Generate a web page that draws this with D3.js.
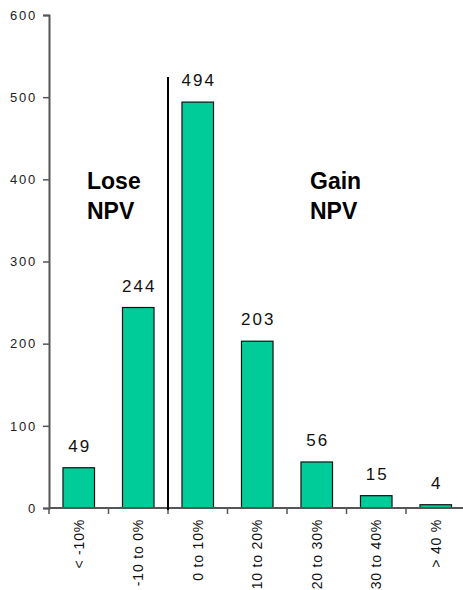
<!DOCTYPE html>
<html>
<head>
<meta charset="utf-8">
<script src="https://cdn.jsdelivr.net/npm/d3@7"></script>
<style>
  html, body { margin: 0; padding: 0; background: #fff; }
  svg { display: block; font-family: Arial, "Liberation Sans", sans-serif; }
</style>
</head>
<body>
<svg id="chart" width="463" height="590"></svg>
<script>
// NPV change buckets and the number of cases in each
const categories = ["< -10%", "-10 to 0%", "0 to 10%", "10 to 20%", "20 to 30%", "30 to 40%", "> 40 %"];
const counts = [49, 244, 494, 203, 56, 15, 4];
const yTicks = [0, 100, 200, 300, 400, 500, 600];
const regionLabels = [["Lose", "NPV"], ["Gain", "NPV"]];

(function draw() {
  const svg = d3.select("#chart");
  const plotLeft = 49, plotTop = 15, plotBottom = 508;
  const step = 59.5;
  const plotRight = plotLeft + step * categories.length;

  const x = d3.scaleBand()
    .domain(categories)
    .range([plotLeft, plotRight])
    .paddingInner(0.47)
    .paddingOuter(0.235);

  const y = d3.scaleLinear().domain([0, 600]).range([plotBottom, plotTop]);

  const gap = (x.step() - x.bandwidth()) / 2;

  // Bars
  svg.append("g").selectAll("rect")
    .data(categories)
    .join("rect")
    .attr("x", d => x(d))
    .attr("y", (d, i) => y(counts[i]))
    .attr("width", x.bandwidth())
    .attr("height", (d, i) => y(0) - y(counts[i]))
    .attr("fill", "#00CC99")
    .attr("stroke", "#111")
    .attr("stroke-width", 1.2);

  // Value labels above bars (trailing letter-spacing offset compensated)
  svg.append("g").selectAll("text")
    .data(categories)
    .join("text")
    .attr("x", d => x(d) + x.bandwidth() / 2 + 1)
    .attr("y", (d, i) => y(counts[i]) - 16)
    .attr("text-anchor", "middle")
    .attr("font-size", 17)
    .attr("letter-spacing", 2)
    .attr("fill", "#111")
    .text((d, i) => counts[i]);

  // Y axis
  const yAxis = svg.append("g")
    .attr("transform", `translate(${plotLeft},0)`)
    .call(d3.axisLeft(y).tickValues(yTicks).tickSize(6).tickPadding(6));
  yAxis.select(".domain").attr("stroke", "#555").attr("stroke-width", 2);
  yAxis.selectAll(".tick line").attr("stroke", "#555").attr("stroke-width", 1.5);
  yAxis.selectAll(".tick text")
    .attr("font-size", 13)
    .attr("letter-spacing", 1.8)
    .attr("fill", "#222")
    .attr("font-family", "Arial, 'Liberation Sans', sans-serif");

  // X axis line with ticks on category boundaries
  svg.append("line")
    .attr("x1", plotLeft).attr("x2", plotRight)
    .attr("y1", y(0)).attr("y2", y(0))
    .attr("stroke", "#555").attr("stroke-width", 2);

  svg.append("g").selectAll("line")
    .data(categories)
    .join("line")
    .attr("x1", d => x(d) - gap).attr("x2", d => x(d) - gap)
    .attr("y1", y(0)).attr("y2", y(0) + 6)
    .attr("stroke", "#555").attr("stroke-width", 1.5);

  // Rotated category labels
  svg.append("g").selectAll("text")
    .data(categories)
    .join("text")
    .attr("transform", d => `translate(${x(d) + x.bandwidth() / 2},${y(0) + 11}) rotate(-90)`)
    .attr("text-anchor", "end")
    .attr("dy", "0.35em")
    .attr("font-size", 14)
    .attr("letter-spacing", 0.8)
    .attr("fill", "#111")
    .text(d => d);

  // Divider between losing and gaining buckets
  const divX = x(categories[2]) - gap;
  svg.append("line")
    .attr("x1", divX).attr("x2", divX)
    .attr("y1", 77).attr("y2", y(0) + 2)
    .attr("stroke", "#000").attr("stroke-width", 2);

  // Region annotations
  const regionX = [87, 310];
  regionLabels.forEach((lines, i) => {
    const t = svg.append("text")
      .attr("x", regionX[i])
      .attr("y", 189)
      .attr("font-size", 23)
      .attr("font-weight", "bold")
      .attr("fill", "#000");
    lines.forEach((line, j) => {
      t.append("tspan").attr("x", regionX[i]).attr("dy", j === 0 ? 0 : 30).text(line);
    });
  });
})();
</script>
</body>
</html>
